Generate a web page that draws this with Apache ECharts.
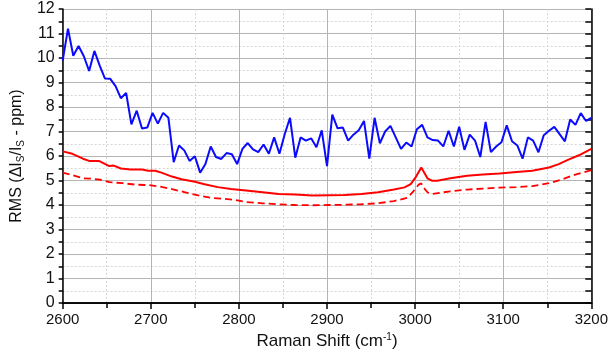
<!DOCTYPE html>
<html>
<head>
<meta charset="utf-8">
<script src="https://cdn.jsdelivr.net/npm/echarts@6/dist/echarts.min.js"></script>
<style>
  html, body { margin: 0; padding: 0; background: #fff; }
  #chart { width: 611px; height: 356px; }
</style>
</head>
<body>
<div id="chart"></div>
<script>
// blue: noisy RMS, sampled every ~6 cm-1
const blueX = [
  2600, 2606, 2612, 2618, 2624, 2630, 2636, 2642, 2648, 2654, 2660, 2666, 2672, 2678, 2684, 2690, 2696,
  2702, 2708, 2714, 2720, 2726, 2732, 2738, 2744, 2750, 2756, 2762, 2768, 2774, 2780, 2786, 2792, 2798,
  2804, 2810, 2816, 2822, 2828, 2834, 2840, 2846, 2852, 2858, 2864, 2870, 2876, 2882, 2888, 2894, 2900,
  2906, 2912, 2918, 2924, 2930, 2936, 2942, 2948, 2954, 2960, 2966, 2972, 2978, 2984, 2990, 2996, 3002,
  3008, 3014, 3020, 3026, 3032, 3038, 3044, 3050, 3056, 3062, 3068, 3074, 3080, 3086, 3092, 3098, 3104,
  3110, 3116, 3122, 3128, 3134, 3140, 3146, 3152, 3158, 3164, 3170, 3176, 3182, 3188, 3194, 3200
]
const blueY = [
  9.89, 11.2, 10.09, 10.49, 10.07, 9.47, 10.29, 9.69, 9.16, 9.15, 8.85, 8.36, 8.57, 7.29, 7.85, 7.12, 7.16,
  7.76, 7.32, 7.76, 7.56, 5.75, 6.43, 6.23, 5.80, 5.99, 5.32, 5.67, 6.39, 5.96, 5.88, 6.12, 6.07, 5.67,
  6.29, 6.53, 6.27, 6.16, 6.47, 6.09, 6.76, 6.09, 6.89, 7.56, 5.93, 6.76, 6.63, 6.72, 6.36, 7.05, 5.59,
  7.69, 7.13, 7.16, 6.63, 6.87, 7.05, 7.43, 5.89, 7.56, 6.52, 7.00, 7.23, 6.76, 6.29, 6.55, 6.39, 7.09,
  7.27, 6.76, 6.65, 6.63, 6.39, 7.03, 6.39, 7.19, 6.25, 6.87, 6.63, 5.96, 7.39, 6.16, 6.39, 6.56, 7.25,
  6.60, 6.43, 5.89, 6.76, 6.63, 6.15, 6.85, 7.03, 7.19, 6.89, 6.60, 7.49, 7.27, 7.75, 7.43, 7.56
]

// red solid
const solidX = [
  2600, 2611, 2623, 2630, 2641, 2653, 2658, 2666, 2677, 2690, 2697, 2705, 2712, 2724, 2735, 2750, 2761,
  2776, 2791, 2808, 2827, 2845, 2864, 2883, 2902, 2920, 2939, 2958, 2976, 2988, 2995, 3001, 3007, 3014,
  3019, 3025, 3040, 3059, 3077, 3096, 3115, 3133, 3152, 3163, 3174, 3186, 3200
]
const solidY = [
  6.19, 6.09, 5.89, 5.80, 5.80, 5.59, 5.61, 5.49, 5.45, 5.45, 5.40, 5.40, 5.32, 5.16, 5.05, 4.95, 4.85,
  4.73, 4.65, 4.59, 4.52, 4.45, 4.43, 4.39, 4.40, 4.41, 4.45, 4.52, 4.63, 4.72, 4.85, 5.15, 5.53, 5.09,
  4.99, 4.99, 5.09, 5.19, 5.24, 5.29, 5.35, 5.40, 5.53, 5.67, 5.85, 6.03, 6.29
]

// red dashed
const dashX = [
  2600, 2612, 2623, 2634, 2643, 2653, 2668, 2683, 2698, 2709, 2724, 2739, 2754, 2769, 2784, 2795, 2808,
  2827, 2845, 2864, 2883, 2902, 2920, 2939, 2958, 2976, 2991, 2998, 3004, 3007, 3010, 3014, 3019, 3040,
  3059, 3077, 3096, 3115, 3133, 3152, 3167, 3181, 3200
]
const dashY = [
  5.32, 5.21, 5.09, 5.07, 5.03, 4.93, 4.89, 4.83, 4.81, 4.76, 4.65, 4.52, 4.39, 4.29, 4.25, 4.21, 4.12,
  4.07, 4.03, 4.00, 3.99, 4.00, 4.01, 4.03, 4.07, 4.16, 4.29, 4.56, 4.83, 4.88, 4.69, 4.52, 4.45, 4.56,
  4.63, 4.67, 4.71, 4.73, 4.77, 4.89, 5.05, 5.23, 5.42
]

const FONT = '"Liberation Sans", Arial, sans-serif'
const zip = (xs, ys) => xs.map((x, i) => [x, ys[i]])

const black = { color: '#000', width: 1.5 }

const chart = echarts.init(document.getElementById('chart'), null, { renderer: 'canvas' })
chart.setOption({
  animation: false,
  textStyle: { fontFamily: FONT },
  grid: { left: 61, right: 15, top: 9, bottom: 47 },
  xAxis: [
    {
      type: 'value',
      min: 2600,
      max: 3200,
      interval: 100,
      position: 'bottom',
      axisLine: { lineStyle: black },
      axisTick: { length: 6, lineStyle: black },
      minorTick: { show: true, splitNumber: 2, length: 4, lineStyle: black },
      splitLine: { lineStyle: { color: '#b4b4b4', width: 1 } },
      minorSplitLine: { show: true, lineStyle: { color: '#d6d6d6', width: 1, type: [2, 2] } },
      axisLabel: { fontSize: 15, color: '#111', margin: 9, fontFamily: FONT, formatter: (v) => String(v) },
      name: '{t|Raman Shift (cm}{sup|-1}{t|)}',
      nameLocation: 'middle',
      nameGap: 29,
      nameTextStyle: {
        fontSize: 17,
        color: '#111',
        fontFamily: FONT,
        lineHeight: 19,
        rich: {
          t: { fontSize: 17, lineHeight: 19, fontFamily: FONT, color: '#111' },
          sup: { fontSize: 10, lineHeight: 10, verticalAlign: 'top', fontFamily: FONT, color: '#111' },
        },
      },
    },
    {
      type: 'value',
      min: 2600,
      max: 3200,
      interval: 50,
      position: 'top',
      axisLine: { lineStyle: black },
      axisTick: { inside: true, length: 5, lineStyle: black },
      axisLabel: { show: false },
      splitLine: { show: false },
    },
  ],
  yAxis: [
    {
      type: 'value',
      min: 0,
      max: 12,
      interval: 1,
      position: 'left',
      axisLine: { show: true, lineStyle: black },
      axisTick: { show: true, length: 4, lineStyle: black },
      minorTick: { show: true, splitNumber: 2, length: 4, lineStyle: black },
      splitLine: { lineStyle: { color: '#b4b4b4', width: 1 } },
      minorSplitLine: { show: true, lineStyle: { color: '#d6d6d6', width: 1, type: [2, 2] } },
      axisLabel: { fontSize: 16, color: '#111', margin: 8, fontFamily: FONT },
      name: '{t|RMS (ΔI}{sub|S}{t|/I}{sub|S}{t| - ppm)}',
      nameLocation: 'middle',
      nameRotate: 90,
      nameGap: 33,
      nameTextStyle: {
        fontSize: 16,
        color: '#111',
        fontFamily: FONT,
        lineHeight: 18,
        rich: {
          t: { fontSize: 16, lineHeight: 18, fontFamily: FONT, color: '#111' },
          sub: { fontSize: 10, lineHeight: 10, verticalAlign: 'bottom', fontFamily: FONT, color: '#111' },
        },
      },
    },
    {
      type: 'value',
      min: 0,
      max: 12,
      interval: 0.5,
      position: 'right',
      axisLine: { show: true, lineStyle: black },
      axisTick: { show: true, inside: true, length: 6, lineStyle: black },
      axisLabel: { show: false },
      splitLine: { show: false },
    },
  ],
  series: [
    {
      name: 'noise',
      type: 'line',
      data: zip(blueX, blueY),
      showSymbol: false,
      lineStyle: { color: '#0a0aff', width: 2 },
      z: 3,
    },
    {
      name: 'solid',
      type: 'line',
      data: zip(solidX, solidY),
      showSymbol: false,
      lineStyle: { color: '#ff0000', width: 2 },
      z: 2,
    },
    {
      name: 'dashed',
      type: 'line',
      data: zip(dashX, dashY),
      showSymbol: false,
      lineStyle: { color: '#ff0000', width: 1.8, type: [7, 4] },
      z: 2,
    },
  ],
})
</script>
</body>
</html>
